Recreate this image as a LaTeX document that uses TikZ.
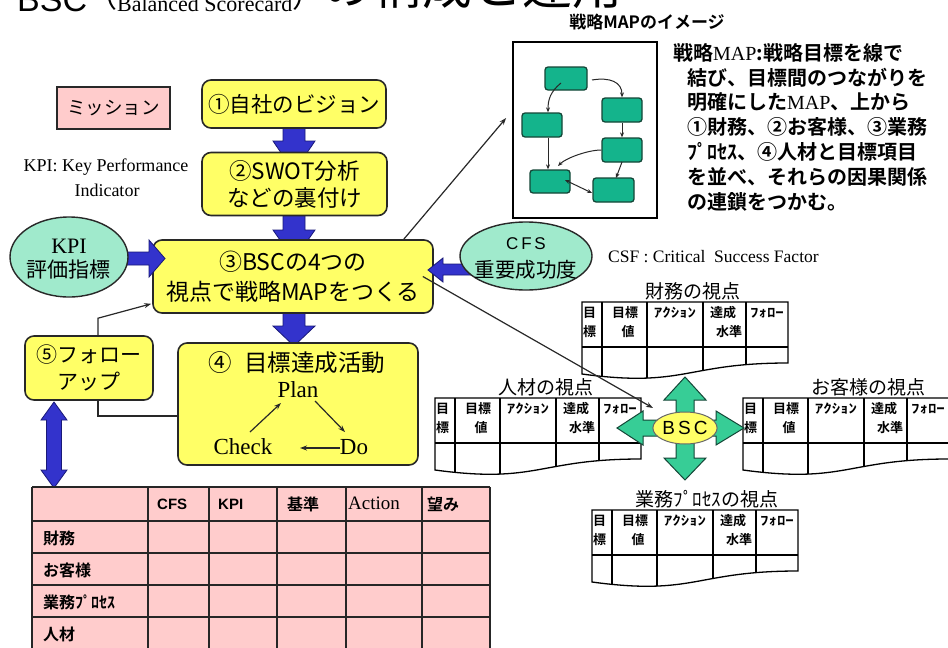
\documentclass[tikz,border=0pt]{standalone}
\usepackage{fontspec}
\usepackage{graphicx}
\setmainfont{Liberation Serif}
\setsansfont{Liberation Sans}
\newfontfamily\jp{Noto Sans CJK JP}
\newfontfamily\jpb{Noto Sans CJK JP Bold}
\usetikzlibrary{arrows.meta,shapes.geometric,calc}
\definecolor{byellow}{RGB}{255,255,102}
\definecolor{bpink}{RGB}{255,204,204}
\definecolor{bmint}{RGB}{160,234,204}
\definecolor{bblue}{RGB}{51,51,204}
\definecolor{bbluedark}{RGB}{25,25,120}
\definecolor{bteal}{RGB}{20,180,140}
\definecolor{btealdark}{RGB}{20,70,55}
\definecolor{bgreen}{RGB}{55,205,150}
\definecolor{bline}{RGB}{40,40,40}
\newcommand\fsz[2]{\fontsize{#1}{#2}\selectfont}
\newcommand\doctable[5]{%
\begin{scope}[shift={(#1,#2)}]
 \path[fill=white] (0,0) -- (206,0) -- (206,61) .. controls (103,61) and (103,86) .. (0,72) -- cycle;
 \begin{scope}
  \clip (0,0) -- (206,0) -- (206,61) .. controls (103,61) and (103,86) .. (0,72) -- cycle;
  \draw[tline] (20,0) -- (20,90) (65,0) -- (65,90) (121,0) -- (121,90) (164,0) -- (164,90);
 \end{scope}
 \draw[tline] (0,0) -- (206,0) -- (206,61) .. controls (103,61) and (103,86) .. (0,72) -- cycle;
 \draw[tline] (0,45) -- (206,45);
 \node[lbl] (#5-l) at (#3,-11) {#4};
 \node[th, anchor=west] (#5-a1) at (1,11) {目};
 \node[th, anchor=west] (#5-a2) at (1,30) {標};
 \node[th] (#5-b1) at (43,11) {目標};
 \node[th] (#5-b2) at (46,30) {値};
 \node[th] (#5-c1) at (93,11) {\scalebox{1.3}[1]{ｱｸｼｮﾝ}};
 \node[th] (#5-d1) at (141,11) {達成};
 \node[th] (#5-d2) at (147,30) {水準};
 \node[th] (#5-e1) at (185,11) {\scalebox{1.3}[1]{ﾌｫﾛｰ}};
\end{scope}}
\begin{document}
\begin{tikzpicture}[x=1pt,y=-1pt,
 ybox/.style={draw=bline, line width=1.6pt, fill=byellow, rounded corners=9pt, align=center, inner sep=2pt},
 pbox/.style={draw=bline, line width=1.6pt, fill=bpink, inner sep=2pt},
 mint/.style={ellipse, draw=bline, line width=1.4pt, fill=bmint, inner sep=0pt},
 barrow/.style={fill=bblue, draw=bbluedark, line width=0.8pt},
 thin/.style={draw=bline, line width=1.2pt},
 tarrow/.style={draw=bline, line width=1.2pt, -{Stealth[length=7pt,width=5pt]}},
 mbox/.style={draw=btealdark, line width=1.3pt, fill=bteal, rounded corners=3pt, inner sep=0pt},
 marrow/.style={draw=bline, line width=1pt, -{Stealth[length=5pt,width=4pt]}},
 tline/.style={draw=black, line width=1.3pt},
 lbl/.style={font=\jp\fsz{19}{19}, inner sep=0pt},
 th/.style={font=\jpb\fsz{13}{13}, inner sep=0pt},
 desc/.style={font=\jpb\fsz{20}{20}, anchor=west, inner sep=0pt},
 gtab/.style={draw=black!85, line width=1.8pt},
 cell/.style={anchor=west, inner sep=0pt},
 etext/.style={inner sep=0pt}
]
\useasboundingbox (0,0) rectangle (948,648);
\clip (0,0) rectangle (948,648);
\fill[white] (0,0) rectangle (948,648);

% title (cut off at the top)
\node[anchor=base west, inner sep=0pt] (title) at (17,11)
 {{\sffamily\fsz{34}{34}BSC}{\jp\fsz{30}{30}\raisebox{4pt}{（}}{\fsz{22}{22}Balanced Scorecard}{\jp\fsz{30}{30}\raisebox{4pt}{）}}{\jp\fsz{50}{50}\raisebox{7pt}{の構成と運用}}};

% blue block arrows (drawn below the boxes)
\draw[barrow] (283,125) -- (305,125) -- (305,141) -- (315,141) -- (294,172) -- (273,141) -- (283,141) -- cycle;
\draw[barrow] (283,212) -- (305,212) -- (305,230) -- (315,230) -- (294,260) -- (273,230) -- (283,230) -- cycle;
\draw[barrow] (283,310) -- (305,310) -- (305,326) -- (315,326) -- (294,346) -- (273,326) -- (283,326) -- cycle;

% main boxes
\node[pbox, minimum width=113, minimum height=42, font=\jp\fsz{18.5}{20}] (mis) at (113.5,108) {ミッション};
\node[ybox, minimum width=184, minimum height=48, font=\jp\fsz{21.5}{26}] (s1) at (294,104) {①自社のビジョン};
\node[ybox, minimum width=185, minimum height=63, font=\jp\fsz{22.5}{27}] (s2) at (294.5,184) {②SWOT分析\\などの裏付け};
\node[ybox, minimum width=280, minimum height=73, font=\jp\fsz{23}{30}] (s3) at (293,276.5) {③BSCの4つの\\視点で戦略MAPをつくる};
\node[ybox, minimum width=240, minimum height=122] (s4) at (298,404) {};
\node[ybox, minimum width=128, minimum height=64, font=\jp\fsz{21}{27}] (s5) at (89,368) {⑤フォロー\\アップ};

% contents of box 4
\node[inner sep=0pt, font=\jp\fsz{23.5}{24}] (s4t) at (297,363) {④\hspace{0.5em}目標達成活動};
\node[inner sep=0pt, font=\fsz{23}{23}] (plan) at (298,390) {Plan};
\node[inner sep=0pt, font=\fsz{23}{23}] (check) at (243,447) {Check};
\node[inner sep=0pt, font=\fsz{23}{23}] (do) at (354,447) {Do};
\draw[tarrow] (250,432) -- (281,403);
\draw[tarrow] (315,401) -- (345,432);
\draw[tarrow] (340,448) -- (300,448);

% KPI / CFS arrows and ellipses
\draw[barrow] (110,252) -- (149,252) -- (149,240) -- (165,258.5) -- (149,277) -- (149,265) -- (110,265) -- cycle;
\draw[barrow] (475,264) -- (443,264) -- (443,258) -- (428,270) -- (443,282) -- (443,275) -- (475,275) -- cycle;
\node[mint, minimum width=118, minimum height=80] (kpi) at (69,257) {};
\node[etext, font=\fsz{22}{22}] (kpi1) at (69,246) {KPI};
\node[etext, font=\jp\fsz{21}{21}] (kpi2) at (69,270) {評価指標};
\node[mint, minimum width=132, minimum height=68] (cfs) at (526,256) {};
\node[etext, font=\sffamily\fsz{17}{17}] (cfs1) at (526,244) {C\,F\,S};
\node[etext, font=\jp\fsz{20.5}{21}] (cfs2) at (526,270) {重要成功度};

\node[inner sep=0pt, font=\fsz{18}{18}] (kpitxt1) at (106,167) {KPI: Key Performance};
\node[inner sep=0pt, font=\fsz{18}{18}] (kpitxt2) at (107,190) {Indicator};
\node[inner sep=0pt, anchor=west, font=\fsz{17.5}{18}] (csftxt) at (608,257) {CSF : Critical\ \ Success Factor};

% connectors between 3, 4, 5
\draw[tarrow] ($(s5.north)+(9,0)$) -- ++(0,-17) -- ($(s3.south west)+(-1,-10)$);
\draw[thin] ($(s4.west)+(0,12)$) -| ($(s5.south)+(9,0)$);

% double arrow 5 <-> table
\draw[barrow] (54,402) -- (67,420) -- (61.5,420) -- (61.5,470) -- (67,470) -- (54,488) -- (41,470) -- (46.5,470) -- (46.5,420) -- (41,420) -- cycle;

% bottom table
\fill[bpink] (32,487) rectangle (490,660);
\foreach \yy in {487,521,553,585,617,649} \draw[gtab] (32,\yy) -- (490,\yy);
\foreach \xx in {32,148,209,277,346,422,490} \draw[gtab] (\xx,487) -- (\xx,660);
\node[cell, font=\sffamily\bfseries\fsz{15}{15}] (hcfs) at (157,504) {CFS};
\node[cell, font=\sffamily\bfseries\fsz{15}{15}] (hkpi) at (218,504) {KPI};
\node[cell, font=\jpb\fsz{16}{16}] (hkij) at (287,504) {基準};
\node[cell, font=\fsz{19}{19}] (hact) at (348,503) {Action};
\node[cell, font=\jpb\fsz{16}{16}] (hnoz) at (427,504) {望み};
\node[cell, font=\jpb\fsz{16}{16}] (r1) at (43,538) {財務};
\node[cell, font=\jpb\fsz{16}{16}] (r2) at (43,570) {お客様};
\node[cell, font=\jpb\fsz{16}{16}] (r3) at (43,602) {業務ﾌﾟﾛｾｽ};
\node[cell, font=\jpb\fsz{16}{16}] (r4) at (43,634) {人材};

% strategy map image
\node[inner sep=0pt, font=\jpb\fsz{17}{17}] (maptitle) at (647,22) {戦略MAPのイメージ};
\node[draw=black, line width=1.8pt, fill=white, minimum width=144, minimum height=176, inner sep=0pt] (map) at (585,130) {};
\node[mbox, minimum width=42, minimum height=23] (ma) at (566,78.5) {};
\node[mbox, minimum width=40, minimum height=24] (mb) at (622,110) {};
\node[mbox, minimum width=40, minimum height=24] (mc) at (542,125) {};
\node[mbox, minimum width=40, minimum height=24] (md) at (622,150) {};
\node[mbox, minimum width=40, minimum height=23] (me) at (550,181.5) {};
\node[mbox, minimum width=41, minimum height=24] (mf) at (613.5,190) {};
\draw[marrow] (561,83) .. controls (550,92) and (548,100) .. (mc.north -| 548,0);
\draw[marrow] (592,80) .. controls (610,77) and (622,82) .. (mb.north);
\draw[marrow] (mb.south) -- (md.north);
\draw[marrow] (mc.south -| 548,0) -- (me.north -| 548,0);
\draw[marrow] (md.west) .. controls (588,150) and (566,158) .. (558,166);
\draw[marrow] (622,162) -- (616,178);
\draw[marrow, {Stealth[length=5pt,width=4pt]}-{Stealth[length=5pt,width=4pt]}] (565,180) -- (592,193);

% description text
\node[desc] (d1) at (673,53) {戦略{\rmfamily MAP}:戦略目標を線で};
\node[desc] (d2) at (687,78) {結び、目標間のつながりを};
\node[desc] (d3) at (687,102) {明確にした{\rmfamily MAP}、上から};
\node[desc] (d4) at (687,127) {①財務、②お客様、③業務};
\node[desc] (d5) at (687,152) {ﾌﾟﾛｾｽ、④人材と目標項目};
\node[desc] (d6) at (687,177) {を並べ、それらの因果関係};
\node[desc] (d7) at (687,202) {の連鎖をつかむ。};

% arrows from box 3
\draw[tarrow] ($(s3.north east)+(-30,0)$) -- ($(map.west)+(-6,-12)$);

% four perspective tables
\doctable{582}{302}{111}{財務の視点}{tfin}
\doctable{435}{398}{111}{人材の視点}{thum}
\doctable{743}{398}{125}{お客様の視点}{tcus}
\doctable{592}{510}{115}{業務ﾌﾟﾛｾｽの視点}{tpro}

\draw[tarrow] ($(s3.east)+(-11,0)$) -- (653,408);

% BSC cross
\draw[fill=bgreen, draw=btealdark, line width=1pt]
 (685,377) -- (706,400) -- (694,400) -- (694,420) -- (716,420) -- (716,411) -- (744,428) -- (716,445) -- (716,436)
 -- (694,436) -- (694,458) -- (706,458) -- (685,480) -- (664,458) -- (676,458) -- (676,436) -- (643,436) -- (643,445)
 -- (617,428) -- (643,411) -- (643,420) -- (676,420) -- (676,400) -- (664,400) -- cycle;
\node[ellipse, draw=bline!70, line width=1pt, fill=byellow, minimum width=54, minimum height=32, inner sep=0pt, font=\sffamily\fsz{19}{19}] (bsc) at (685,428) {B\,S\,C};
\end{tikzpicture}
\end{document}
